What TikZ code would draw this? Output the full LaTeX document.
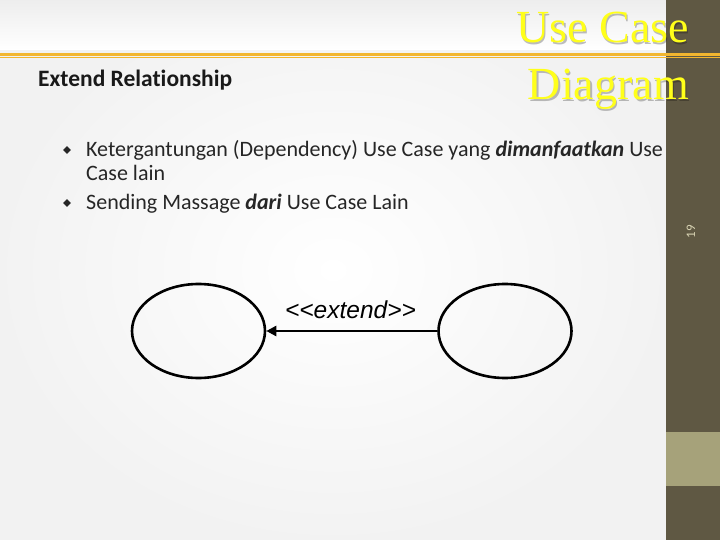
\documentclass[tikz,border=0pt]{standalone}
\usepackage{fontspec}
\setmainfont[Ligatures={TeX,NoCommon}]{Carlito}
\newfontfamily\titlefont{Liberation Serif}
\newfontfamily\umlfont{Liberation Sans}
\usetikzlibrary{shapes.geometric,arrows.meta}
\definecolor{barbrown}{HTML}{5F5843}
\definecolor{bandolive}{HTML}{A6A27A}
\definecolor{rulegold}{HTML}{F2B630}
\definecolor{titleyellow}{HTML}{FFFF1A}
\definecolor{numbeige}{HTML}{D9D4B4}

\begin{document}
\begin{tikzpicture}[x=1pt,y=-1pt]

\tikzset{myellipse/.style={ellipse, draw=black, line width=2.6pt, minimum width=133pt, minimum height=94pt, inner sep=0pt}}
\tikzset{mybullet/.style={diamond, fill=black!85, inner sep=0pt, minimum size=8pt}}
\tikzset{mytext/.style={anchor=base west, inner sep=0pt, font=\fontsize{22}{26}\selectfont, text=black!85}}
\tikzset{mytitle/.style={anchor=base east, inner sep=0pt, font=\titlefont\fontsize{46}{57}\selectfont}}

\useasboundingbox (0,0) rectangle (720,540);
\shade[inner color=white, outer color=black!5] (0,0) rectangle (666,540);
\shade[top color=black!7, bottom color=white] (0,0) rectangle (666,50);

% heading and bullets
\node[anchor=base west, inner sep=0pt, font=\bfseries\fontsize{23.5}{28}\selectfont, text=black!90] (heading) at (38,87) {Extend Relationship};
\node[mybullet] (bulletone) at (67,150) {};
\node[mytext] (lineone) at (86,157) {Ketergantungan (Dependency) Use Case yang \textbf{\textit{dimanfaatkan}} Use};
\node[mytext] (linetwo) at (86,181) {Case lain};
\node[mybullet] (bullettwo) at (67,203) {};
\node[mytext] (linethree) at (86,210) {Sending Massage \textbf{\textit{dari}} Use Case Lain};

% side bar
\fill[barbrown] (666,0) rectangle (720,540);
\fill[bandolive] (666,432) rectangle (720,486);
\node[rotate=90, inner sep=0pt, font=\fontsize{13}{15}\selectfont, text=numbeige] (slidenum) at (691,232) {19};

% rules
\fill[rulegold] (0,53.5) rectangle (720,56);
\fill[rulegold] (0,57) rectangle (720,58.5);

% title
\node[mytitle, text=black, opacity=0.25] at (690.5,44.5) {Use Case};
\node[mytitle, text=black, opacity=0.25] at (690.5,101.5) {Diagram};
\node[mytitle, text=titleyellow] (titleone) at (689,43) {Use Case};
\node[mytitle, text=titleyellow] (titletwo) at (689,100) {Diagram};

% use cases
\node[myellipse] (ucbase) at (198.5,331) {};
\node[myellipse] (ucext) at (505,331) {};
\draw[line width=2.6pt, -{Triangle[length=10pt,width=10pt]}] (ucext) -- (ucbase);
\node[anchor=base, inner sep=0pt, font=\umlfont\itshape\fontsize{24.5}{28}\selectfont] (extlabel) at (350.5,318) {<{}<extend>{}>};

\end{tikzpicture}
\end{document}
